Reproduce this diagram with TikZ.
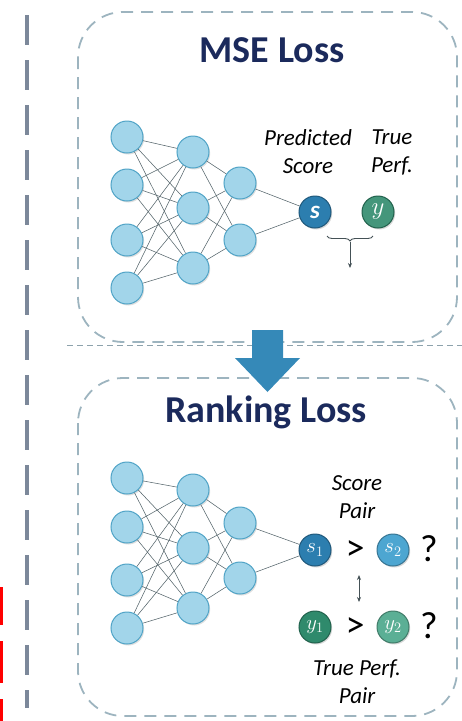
\documentclass[tikz,border=0pt]{standalone}
\usepackage{fontspec}
\setmainfont{Carlito}
\usetikzlibrary{shadows,decorations.pathreplacing,arrows.meta}
\definecolor{navy}{HTML}{1B2A5C}
\definecolor{boxc}{HTML}{9DB4BF}
\definecolor{vline}{HTML}{7C889A}
\definecolor{nfill}{HTML}{A2D5EA}
\definecolor{nedge}{HTML}{4FA3C6}
\definecolor{sdark}{HTML}{2C7EAF}
\definecolor{slight}{HTML}{4DA6D1}
\definecolor{gdark}{HTML}{2F8A6C}
\definecolor{glight}{HTML}{5BAF95}
\definecolor{arrowc}{HTML}{3589B8}
\definecolor{edgec}{HTML}{55656B}
\tikzset{
  neuron/.style={circle,minimum size=32pt,inner sep=0pt,fill=nfill,draw=nedge,line width=1pt,
     drop shadow={shadow xshift=1.2pt,shadow yshift=-1.5pt,opacity=0.25}},
  outnode/.style={circle,minimum size=32pt,inner sep=0pt,line width=1pt,text=white,
     drop shadow={shadow xshift=1.2pt,shadow yshift=-1.5pt,opacity=0.3}},
  conn/.style={draw=edgec,line width=0.55pt},
  lossbox/.style={draw=boxc,line width=1.8pt,dash pattern=on 12pt off 8pt,rounded corners=45pt},
  title/.style={font=\fontsize{38}{40}\selectfont\bfseries,text=navy},
  lbl/.style={font=\fontsize{23}{28}\selectfont\itshape,align=center,inner sep=0pt},
  relsym/.style={font=\fontsize{38}{38}\selectfont,inner sep=0pt},
  ntext/.style={font=\fontsize{21}{21}\selectfont},
}
\begin{document}
\begin{tikzpicture}[x=1pt,y=-1pt]
\useasboundingbox (0,0) rectangle (462,721);
% red marks at the left edge
\fill[red] (0,587) rectangle (3,625);
\fill[red] (0,641) rectangle (3,683);
\fill[red] (0,699) rectangle (3,721);
% left dashed vertical line
\coordinate (vt) at (27,15);
\coordinate (vb) at (27,708);
\draw[vline,line width=3.5pt,dash pattern=on 30pt off 15pt] (vt) -- (vb);
% horizontal dashed separator
\coordinate (hl) at (67,345);
\coordinate (hr) at (462,345);
\draw[boxc!90!black,line width=1pt,dash pattern=on 6pt off 4pt] (hl) -- (hr);
% boxes
\draw[lossbox] (78,12) rectangle (457,342);
\draw[lossbox] (78,378) rectangle (457,716);
% arrow
\fill[arrowc] (252,330) -- (283,330) -- (283,358) -- (300,358) -- (267.5,392) -- (235,358) -- (252,358) -- cycle;
% titles
\node[title] (t1) at (272,50) {MSE Loss};
\node[title] (t2) at (266,412) {Ranking Loss};

% ---------- top network ----------
\foreach \n/\y in {1/137,2/185,3/240,4/288} \node[neuron] (a\n) at (127,\y) {};
\foreach \n/\y in {1/152,2/208,3/268} \node[neuron] (b\n) at (193,\y) {};
\foreach \n/\y in {1/183,2/240} \node[neuron] (c\n) at (240,\y) {};
\node[outnode,fill=sdark,draw=sdark!70!black] (s) at (315,212) {\fontsize{25}{25}\selectfont\bfseries\itshape s};
\node[outnode,fill=gdark!90!white,draw=gdark!70!black] (yv) at (378,212) {\fontsize{28}{28}\selectfont$y$};
\foreach \i in {1,...,4} \foreach \j in {1,2,3} \draw[conn] (a\i) -- (b\j);
\foreach \i in {1,2,3} \foreach \j in {1,2} \draw[conn] (b\i) -- (c\j);
\foreach \i in {1,2} \draw[conn] (c\i) -- (s);
\node[lbl] (pl) at (308,152) {Predicted\\Score};
\node[lbl] (tl) at (392,152) {True\\Perf.};
\coordinate (bl) at (327,236);
\coordinate (br) at (373,236);
\draw[edgec!80!black,line width=0.9pt,decorate,decoration={brace,mirror,amplitude=5pt}] (bl) -- (br);
\coordinate (bm) at (350,242);
\coordinate (be) at (350,268);
\draw[-{Stealth[length=5pt,width=4pt]},line width=0.8pt,edgec!80!black] (bm) -- (be);

% ---------- bottom network ----------
\foreach \n/\y in {1/478,2/527,3/580,4/628} \node[neuron] (d\n) at (127,\y) {};
\foreach \n/\y in {1/490,2/548,3/608} \node[neuron] (e\n) at (193,\y) {};
\foreach \n/\y in {1/523,2/578} \node[neuron] (f\n) at (240,\y) {};
\node[outnode,fill=sdark,draw=sdark!70!black] (s1) at (315,550) {\fontsize{21}{21}\selectfont$s_1$};
\node[outnode,fill=slight,draw=slight!70!black] (s2) at (393,550) {\fontsize{21}{21}\selectfont$s_2$};
\node[outnode,fill=gdark,draw=gdark!70!black] (y1) at (315,627) {\fontsize{21}{21}\selectfont$y_1$};
\node[outnode,fill=glight,draw=glight!70!black] (y2) at (393,627) {\fontsize{21}{21}\selectfont$y_2$};
\foreach \i in {1,...,4} \foreach \j in {1,2,3} \draw[conn] (d\i) -- (e\j);
\foreach \i in {1,2,3} \foreach \j in {1,2} \draw[conn] (e\i) -- (f\j);
\foreach \i in {1,2} \draw[conn] (f\i) -- (s1);
\node[relsym] (g1) at (355,551) {>};
\node[relsym] (g2) at (355,628) {>};
\node[relsym] (q1) at (429,549) {?};
\node[relsym] (q2) at (429,626) {?};
\coordinate (da) at (359,575);
\coordinate (db) at (359,602);
\draw[{Stealth[length=5pt,width=4pt]}-{Stealth[length=5pt,width=4pt]},line width=0.8pt,edgec!80!black] (da) -- (db);
\node[lbl] (sp) at (357,497) {Score\\Pair};
\node[lbl] (tp) at (357,682) {True Perf.\\Pair};
\end{tikzpicture}
\end{document}
